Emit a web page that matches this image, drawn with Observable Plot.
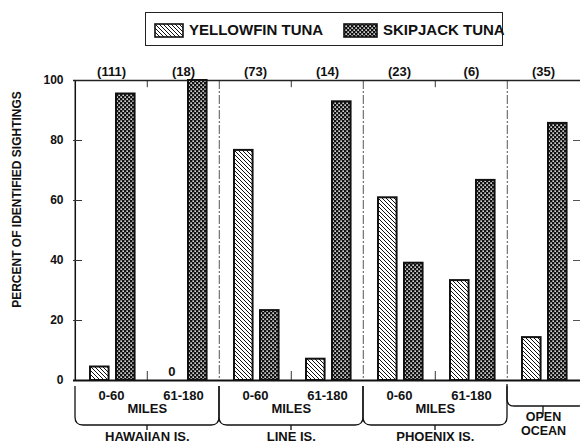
<!DOCTYPE html>
<html><head><meta charset="utf-8">
<script src="https://cdn.jsdelivr.net/npm/d3@7"></script>
<script src="https://cdn.jsdelivr.net/npm/@observablehq/plot@0.6"></script>
<style>
body{margin:0;background:#fff;width:580px;height:448px;overflow:hidden;font-family:"Liberation Sans",Arial,sans-serif;}
#legend{position:relative;width:580px;height:56px;}
.box{position:absolute;left:145px;top:12px;width:358px;height:34px;border:1.3px solid #222;box-sizing:border-box;}
.sw{position:absolute;top:10px;}
.lt{position:absolute;top:0;line-height:33px;font-weight:bold;font-size:15px;color:#111;white-space:nowrap;}
#chart svg{display:block;}
</style></head>
<body>
<svg width="0" height="0" style="position:absolute">
<defs>
<pattern id="yf" width="4" height="4" patternUnits="userSpaceOnUse"><rect width="4" height="4" fill="#fff"/><path d="M0,0L4,4M-1,3L1,5M3,-1L5,1" stroke="#111" stroke-width="1"/></pattern>
<pattern id="sj" width="4" height="4" patternUnits="userSpaceOnUse"><rect width="4" height="4" fill="#111"/><rect x="0.4" y="0.4" width="1.5" height="1.5" fill="#fff"/><rect x="2.4" y="2.4" width="1.5" height="1.5" fill="#fff"/></pattern>
</defs></svg>
<div id="legend"></div>
<div id="chart"></div>
<script>
// ---- data ----
const subgroups = ["H 0-60", "H 61-180", "L 0-60", "L 61-180", "P 0-60", "P 61-180", "OPEN"];
const rangeLabels = ["0-60", "61-180", "0-60", "61-180", "0-60", "61-180", ""];
const groupIndex = [0, 0, 1, 1, 2, 2, 3];
const groupNames = ["HAWAIIAN IS.", "LINE IS.", "PHOENIX IS.", "OPEN\nOCEAN"];
const unitLabel = "MILES";
const counts = [111, 18, 73, 14, 23, 6, 35];
const yellowfin = [4.5, 0, 76.7, 7.1, 60.9, 33.3, 14.3];
const skipjack = [95.5, 100, 23.3, 92.9, 39.1, 66.7, 85.7];
const yTicks = [0, 20, 40, 60, 80, 100];
const seriesNames = ["YELLOWFIN TUNA", "SKIPJACK TUNA"];
const yLabel = "PERCENT OF IDENTIFIED SIGHTINGS";

// ---- legend ----
const legend = d3.select("#legend").append("div").attr("class", "box");
const swatch = (left, w, pat) => legend.append("svg").attr("class", "sw")
  .style("left", left + "px").attr("width", w).attr("height", 15)
  .append("rect").attr("x", 1).attr("y", 1).attr("width", w - 2).attr("height", 13)
  .attr("fill", `url(#${pat})`).attr("stroke", "#111").attr("stroke-width", 1.6);
swatch(8, 30, "yf");
legend.append("div").attr("class", "lt").style("left", "43px").text(seriesNames[0]);
swatch(197, 35, "sj");
legend.append("div").attr("class", "lt").style("left", "237px").text(seriesNames[1]);

// ---- chart ----
const W = 580, H = 392, ML = 73, MR = 0, MT = 24, MB = 68;
const bw = (W - ML - MR) / subgroups.length;
const rows = subgroups.map((s, i) => ({sub: s, yf: yellowfin[i], sj: skipjack[i], n: counts[i], range: rangeLabels[i], g: groupIndex[i]}));
const groupStarts = subgroups.filter((s, i) => i > 0 && groupIndex[i] !== groupIndex[i - 1]);
const subStarts = subgroups.filter((s, i) => i > 0 && groupIndex[i] === groupIndex[i - 1]);
const pairedGroups = groupNames.map((name, gi) => ({name, members: subgroups.filter((s, i) => groupIndex[i] === gi)})).filter(d => d.members.length > 1);
const singleGroups = groupNames.map((name, gi) => ({name, members: subgroups.filter((s, i) => groupIndex[i] === gi)})).filter(d => d.members.length === 1);

const braces = (index, scales) => {
  const x = scales.x, y = scales.y;
  const b = x.bandwidth ? x.bandwidth() : bw;
  const y0 = y(0);
  const g = d3.create("svg:g").attr("fill", "none").attr("stroke", "#111").attr("stroke-width", 1.3);
  groupNames.forEach((name, gi) => {
    const members = subgroups.filter((s, i) => groupIndex[i] === gi);
    const open = members.length === 1;
    const x0 = x(members[0]), x1 = x(members[members.length - 1]) + b;
    const top = y0 + (open ? 4 : 6), hy = y0 + (open ? 26 : 45), r = open ? 7 : 8, tick = open ? 8 : 5;
    const xr = open ? x1 + r : x1;
    const xm = (x0 + x1) / 2;
    g.append("path").attr("d",
      `M${x0},${top}V${hy - r}Q${x0},${hy} ${x0 + r},${hy}H${xr - r}Q${xr},${hy} ${xr},${hy - r}V${top}M${xm},${hy}v${tick}`);
  });
  return g.node();
};

const chart = Plot.plot({
  width: W, height: H,
  marginLeft: ML, marginRight: MR, marginTop: MT, marginBottom: MB,
  style: {fontFamily: "'Liberation Sans', Arial, sans-serif", color: "#111", background: "transparent", overflow: "visible"},
  x: {type: "band", domain: subgroups, padding: 0},
  y: {domain: [0, 100]},
  marks: [
    Plot.ruleX(groupStarts, {x: d => d, dx: -bw / 2, stroke: "#555", strokeWidth: 1, strokeDasharray: "9,2,2,2"}),
    Plot.ruleX(subStarts, {x: d => d, dx: -bw / 2, y1: 100, y2: 97.6, stroke: "#333", strokeWidth: 1}),
    Plot.ruleX(subStarts, {x: d => d, dx: -bw / 2, y1: 0, y2: 3, stroke: "#333", strokeWidth: 1}),
    Plot.ruleX([subgroups[0]], {x: d => d, dx: -bw / 2, stroke: "#111", strokeWidth: 1.5}),
    Plot.ruleY([100], {stroke: "#222", strokeWidth: 1.3}),
    Plot.barY(rows.filter(d => d.yf > 0), {x: "sub", y: "yf", fill: "url(#yf)", stroke: "#111", strokeWidth: 2, insetLeft: 15, insetRight: bw - 34}),
    Plot.barY(rows.filter(d => d.sj > 0), {x: "sub", y: "sj", fill: "url(#sj)", stroke: "#111", strokeWidth: 2, insetLeft: 41, insetRight: bw - 60}),
    Plot.text(rows.filter(d => d.yf === 0), {x: "sub", y: "yf", text: d => String(d.yf), dx: 24.5 - bw / 2, dy: -9, fontSize: 13, fontWeight: "bold"}),
    Plot.ruleY([0], {stroke: "#111", strokeWidth: 2}),
    Plot.axisY({anchor: "left", ticks: yTicks, tickSize: 0, tickPadding: 10, fontSize: 12, fontWeight: "bold", label: null}),
    Plot.axisY({anchor: "left", ticks: yTicks.slice(1, -1), tickSize: 9, dx: 9, tickFormat: () => "", label: null, stroke: "#333"}),
    Plot.axisY({anchor: "right", ticks: yTicks.slice(1, -1), tickSize: 8, dx: -8, tickFormat: () => "", label: null, stroke: "#555"}),
    Plot.axisX({anchor: "bottom", tickSize: 0, tickPadding: 10, tickFormat: d => rangeLabels[subgroups.indexOf(d)], fontSize: 13, fontWeight: "bold", label: null}),
    Plot.axisX({anchor: "top", tickSize: 0, tickPadding: 5, tickFormat: d => `(${counts[subgroups.indexOf(d)]})`, fontSize: 13, fontWeight: "bold", label: null}),
    Plot.text(rows.filter((d, i) => i > 0 && groupIndex[i] === groupIndex[i - 1]), {x: "sub", dx: -bw / 2, text: () => unitLabel, frameAnchor: "bottom", dy: 32, fontSize: 13, fontWeight: "bold"}),
    Plot.text(pairedGroups, {x: d => d.members[d.members.length - 1], dx: -bw / 2, text: "name", frameAnchor: "bottom", dy: 60, fontSize: 13, fontWeight: "bold"}),
    Plot.text(singleGroups, {x: d => d.members[0], text: "name", frameAnchor: "bottom", dy: 54, lineHeight: 1.12, fontSize: 12.5, fontWeight: "bold"}),
    Plot.text([yLabel], {text: d => d, frameAnchor: "left", textAnchor: "middle", rotate: -90, dx: -56, dy: -31, fontSize: 12, fontWeight: "bold"}),
    braces
  ]
});
document.getElementById("chart").appendChild(chart);
</script>
</body></html>
